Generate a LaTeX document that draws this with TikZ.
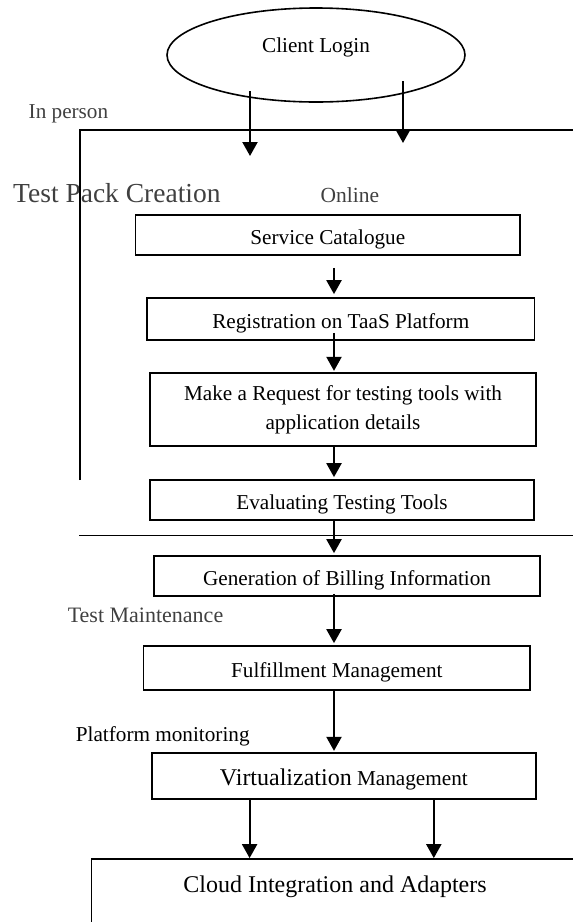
\documentclass[tikz,border=0pt]{standalone}
\usepackage{fontspec}
\setmainfont{Liberation Serif}
\usetikzlibrary{shapes.geometric,arrows.meta}
\definecolor{lbl}{HTML}{404040}
\begin{document}
\begin{tikzpicture}[x=1pt,y=-1pt,
  every node/.style={font=\fontsize{21.2}{29.4}\selectfont},
  stepbox/.style={draw, line width=1.7pt, rectangle, inner sep=2pt},
  oneline/.style={text height=22pt, text depth=4pt},
  arr/.style={line width=2.2pt, -{Triangle[width=15pt,length=14pt]}},
  frame/.style={line width=1.4pt},
  side/.style={anchor=base west, inner sep=0pt}]
\useasboundingbox (0,0) rectangle (573,922);

% login
\node[draw, ellipse, line width=1.6pt, minimum width=298pt, minimum height=94pt,
      inner sep=0pt, text height=15pt, text depth=21pt] (login) at (316,55) {Client Login\hspace{18pt}};

% side labels
\node[side, text=lbl] (inperson) at (28.5,118.5) {In person};
\node[side, text=lbl, font=\fontsize{27.5}{30}\selectfont] (tpc) at (13,202) {Test Pack Creation};
\node[side, text=lbl, font=\fontsize{21.5}{26}\selectfont] (online) at (320.5,202.3) {Online};
\node[side, text=lbl, font=\fontsize{22}{26}\selectfont] (tm) at (67.6,622.7) {Test Maintenance};
\node[side] (pm) at (75.7,741.7) {Platform monitoring};

% bracket frames
\coordinate (ftl) at (80,130);
\coordinate (ftr) at (573,130);
\coordinate (fbl) at (80,480);
\coordinate (sepl) at (79,535.7);
\coordinate (sepr) at (573,535.7);
\draw[frame] (fbl) -- (ftl) -- (ftr);
\draw[frame] (sepl) -- (sepr);

% boxes
\node[stepbox, oneline, minimum width=384.4pt, minimum height=40pt] (svc) at (327.8,235) {Service Catalogue};
\node[stepbox, oneline, minimum width=387.5pt, minimum height=42pt] (reg) at (340.75,319) {Registration on TaaS Platform};
\node[stepbox, align=center, minimum width=386pt, minimum height=73pt] (req) at (343,409.5) {Make a Request for testing tools with\\application details};
\node[stepbox, oneline, minimum width=384pt, minimum height=40pt] (eval) at (342,500) {Evaluating Testing Tools};
\node[stepbox, oneline, minimum width=386pt, minimum height=40pt] (bill) at (347,576) {Generation of Billing Information};
\node[stepbox, oneline, minimum width=386.4pt, minimum height=44pt] (ful) at (336.8,668) {Fulfillment Management};
\node[stepbox, text height=23pt, text depth=4pt, minimum width=384.3pt, minimum height=46pt] (virt) at (343.85,776) {{\fontsize{24}{28}\selectfont Virtualization} Management};
\node[rectangle, inner sep=0pt, minimum width=487.2pt, minimum height=63.4pt,
      text height=17pt, text depth=13.6pt, font=\fontsize{24}{28}\selectfont] (cloud) at (335,891) {Cloud Integration and Adapters};
\draw[frame] (cloud.south west) -- (cloud.north west) -- (cloud.north east);

% arrow columns
\coordinate (ax) at (334,0);
\coordinate (inp) at (250,156);
\coordinate (onl) at (403,143);
\coordinate (cl) at (249.6,0);
\coordinate (cr) at (433.8,0);

% arrows
\draw[arr] ([yshift=-36pt]login.center -| inp) -- (inp);
\draw[arr] ([yshift=-26pt]login.center -| onl) -- (onl);
\draw[arr] ([yshift=-12pt]svc.south -| ax) -- ([yshift=3pt]reg.north -| ax);
\draw[arr] ([yshift=8pt]reg.south -| ax) -- ([yshift=1.3pt]req.north -| ax);
\draw[arr] (req.south -| ax) -- ([yshift=2pt]eval.north -| ax);
\draw[arr] (eval.south -| ax) -- ([yshift=2pt]bill.north -| ax);
\draw[arr] ([yshift=3pt]bill.south -| ax) -- ([yshift=2pt]ful.north -| ax);
\draw[arr] (ful.south -| ax) -- ([yshift=1.3pt]virt.north -| ax);
\draw[arr] (virt.south -| cl) -- ([yshift=1pt]cloud.north -| cl);
\draw[arr] (virt.south -| cr) -- ([yshift=1pt]cloud.north -| cr);
\end{tikzpicture}
\end{document}
